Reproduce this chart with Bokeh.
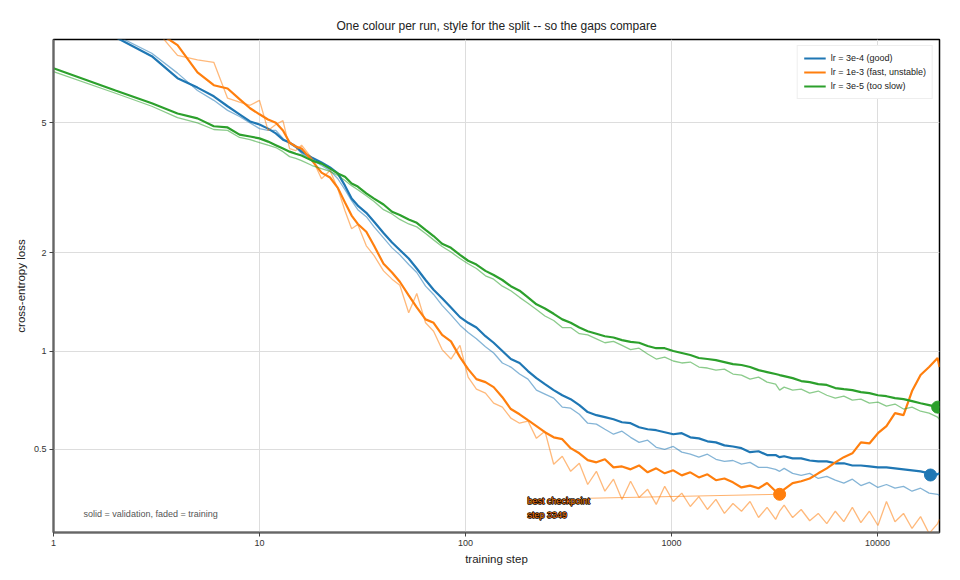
from bokeh.plotting import figure
from bokeh.models import FixedTicker, Legend, LegendItem
from bokeh.core.properties import value
from bokeh.embed import file_html
from bokeh.resources import INLINE

# training steps shared by all runs (log spaced)
steps = [1, 2, 3, 4, 5, 6, 7, 8, 9, 10, 11, 12, 13, 14, 15, 16, 18, 20, 22, 24,
         26, 28, 30, 33, 36, 40, 44, 48, 53, 58, 64, 70, 77, 85, 94, 103, 113, 125,
         137, 151, 166, 183, 201, 221, 243, 268, 295, 324, 357, 392, 432, 475, 523,
         575, 633, 696, 766, 843, 927, 1020, 1122, 1234, 1358, 1494, 1643, 1807,
         1988, 2187, 2406, 2646, 2911, 3202, 3349, 3522, 3874, 4262, 4688, 5157,
         5673, 6240, 6864, 7550, 8305, 9136, 10050, 11055, 12160, 13376, 14714,
         16185, 17804, 19584, 20000]

# lr = 3e-4
good_val = [12.3, 9.15, 8.0, 6.85, 6.41, 6.03, 5.62, 5.31, 5.05, 4.94, 4.80, 4.64, 4.44,
            4.35, 4.23, 4.08, 3.91, 3.78, 3.65, 3.50, 3.21, 2.93, 2.79, 2.65, 2.49, 2.30,
            2.15, 2.04, 1.92, 1.79, 1.65, 1.54, 1.45, 1.36, 1.27, 1.22, 1.18, 1.11, 1.06,
            1.00, 0.945, 0.919, 0.868, 0.826, 0.792, 0.759, 0.732, 0.712, 0.683, 0.650,
            0.636, 0.627, 0.618, 0.605, 0.601, 0.584, 0.576, 0.572, 0.564, 0.556, 0.560,
            0.544, 0.540, 0.529, 0.525, 0.514, 0.510, 0.504, 0.490, 0.493, 0.480, 0.480,
            0.473, 0.476, 0.469, 0.469, 0.462, 0.459, 0.459, 0.453, 0.453, 0.446, 0.446,
            0.443, 0.440, 0.440, 0.437, 0.434, 0.431, 0.428, 0.422, 0.419, 0.422]
good_train = [12.6, 9.28, 8.17, 7.1, 6.28, 5.86, 5.46, 5.23, 5.0, 4.80, 4.74, 4.74, 4.48,
              4.32, 4.20, 4.03, 3.86, 3.70, 3.57, 3.37, 3.12, 2.89, 2.71, 2.58, 2.40, 2.22,
              2.07, 1.97, 1.84, 1.74, 1.58, 1.49, 1.38, 1.29, 1.20, 1.14, 1.09, 1.03, 0.986,
              0.919, 0.893, 0.850, 0.820, 0.759, 0.738, 0.717, 0.673, 0.668, 0.640, 0.601,
              0.597, 0.576, 0.556, 0.568, 0.544, 0.525, 0.533, 0.507, 0.500, 0.510, 0.490,
              0.483, 0.473, 0.483, 0.466, 0.459, 0.462, 0.450, 0.456, 0.440, 0.440, 0.434,
              0.428, 0.437, 0.422, 0.416, 0.422, 0.407, 0.413, 0.402, 0.394, 0.405, 0.387,
              0.396, 0.382, 0.390, 0.380, 0.385, 0.372, 0.380, 0.367, 0.364, 0.361]

# lr = 1e-3
fast_val = [19.5, 12.8, 9.75, 8.65, 7.14, 6.52, 6.37, 5.91, 5.54, 5.31, 5.12, 5.00, 4.74,
            4.35, 4.23, 4.17, 3.83, 3.52, 3.40, 3.16, 2.85, 2.60, 2.45, 2.32, 2.10, 1.85,
            1.74, 1.63, 1.48, 1.36, 1.25, 1.22, 1.12, 1.07, 0.958, 0.880, 0.820, 0.803,
            0.775, 0.722, 0.664, 0.640, 0.614, 0.589, 0.564, 0.544, 0.537, 0.504, 0.486,
            0.463, 0.456, 0.466, 0.440, 0.443, 0.434, 0.446, 0.425, 0.437, 0.422, 0.431,
            0.416, 0.425, 0.410, 0.419, 0.402, 0.407, 0.396, 0.382, 0.387, 0.380, 0.394,
            0.372, 0.364, 0.377, 0.394, 0.399, 0.407, 0.422, 0.437, 0.456, 0.473, 0.486,
            0.525, 0.521, 0.560, 0.589, 0.645, 0.636, 0.754, 0.844, 0.893, 0.952, 0.893]
fast_train = [18.2, 12.3, 9.96, 8.05, 7.79, 7.66, 5.95, 5.79, 5.66, 5.86, 4.74, 4.94, 5.08,
              4.17, 4.11, 4.27, 3.89, 3.37, 3.57, 3.14, 2.69, 2.37, 2.44, 2.10, 1.96, 1.76,
              1.66, 1.59, 1.31, 1.50, 1.22, 1.15, 1.01, 0.945, 1.04, 0.832, 0.764, 0.743,
              0.692, 0.673, 0.623, 0.601, 0.610, 0.540, 0.568, 0.450, 0.476, 0.428, 0.453,
              0.390, 0.428, 0.372, 0.405, 0.351, 0.399, 0.356, 0.377, 0.339, 0.385, 0.346,
              0.367, 0.334, 0.358, 0.327, 0.351, 0.318, 0.341, 0.323, 0.346, 0.309, 0.332,
              0.305, 0.323, 0.337, 0.309, 0.327, 0.302, 0.318, 0.296, 0.323, 0.300, 0.332,
              0.298, 0.323, 0.292, 0.346, 0.300, 0.318, 0.286, 0.311, 0.276, 0.296, 0.305]

# lr = 3e-5
slow_val = [7.35, 6.28, 5.74, 5.34, 5.16, 4.88, 4.84, 4.60, 4.54, 4.48, 4.38, 4.27, 4.17,
            4.08, 4.02, 3.97, 3.83, 3.75, 3.62, 3.50, 3.42, 3.26, 3.19, 3.04, 2.93, 2.81,
            2.67, 2.61, 2.53, 2.47, 2.35, 2.25, 2.13, 2.07, 1.97, 1.89, 1.84, 1.76, 1.71,
            1.65, 1.58, 1.53, 1.46, 1.39, 1.35, 1.30, 1.25, 1.22, 1.18, 1.15, 1.13, 1.11,
            1.10, 1.08, 1.066, 1.06, 1.036, 1.02, 1.02, 1.00, 0.986, 0.972, 0.952, 0.945,
            0.938, 0.925, 0.912, 0.906, 0.893, 0.874, 0.862, 0.850, 0.844, 0.838, 0.826,
            0.809, 0.803, 0.792, 0.787, 0.770, 0.764, 0.759, 0.748, 0.743, 0.732, 0.727,
            0.717, 0.712, 0.702, 0.692, 0.683, 0.673, 0.673]
slow_train = [7.18, 6.16, 5.62, 5.19, 5.00, 4.77, 4.74, 4.51, 4.44, 4.35, 4.27, 4.20, 4.08,
              3.94, 3.89, 3.83, 3.70, 3.62, 3.55, 3.45, 3.33, 3.21, 3.12, 2.99, 2.87, 2.71,
              2.63, 2.53, 2.45, 2.40, 2.29, 2.19, 2.09, 2.01, 1.92, 1.85, 1.79, 1.70, 1.66,
              1.58, 1.53, 1.46, 1.40, 1.34, 1.28, 1.24, 1.18, 1.18, 1.13, 1.12, 1.09, 1.06,
              1.07, 1.04, 1.01, 1.02, 0.979, 0.945, 0.958, 0.932, 0.919, 0.925, 0.893, 0.887,
              0.874, 0.880, 0.850, 0.844, 0.820, 0.832, 0.803, 0.792, 0.759, 0.775, 0.759,
              0.764, 0.743, 0.754, 0.732, 0.717, 0.727, 0.707, 0.712, 0.692, 0.697, 0.678,
              0.688, 0.664, 0.673, 0.654, 0.645, 0.627, 0.618]

run_names = ["lr = 3e-4 (good)", "lr = 1e-3 (fast, unstable)", "lr = 3e-5 (too slow)"]
run_colors = ["#1f77b4", "#ff7f0e", "#2ca02c"]
val_runs = [good_val, fast_val, slow_val]
train_runs = [good_train, fast_train, slow_train]

# best checkpoint per run (min validation loss)
best_steps = [18080, 3349, 19584]
best_losses = [0.417, 0.364, 0.673]

FONT = "Liberation Sans"

p = figure(width=952, height=567, x_axis_type="log", y_axis_type="log",
           x_range=(1, 20000), y_range=(0.278, 9.0),
           title="One colour per run, style for the split -- so the gaps compare",
           x_axis_label="training step", y_axis_label="cross-entropy loss",
           output_backend="svg", toolbar_location=None,
           min_border_left=53, min_border_right=13, min_border_top=39, min_border_bottom=30)

p.title.align = "center"
p.title.text_font = FONT
p.title.text_font_size = "12px"
p.title.text_font_style = "normal"
p.title.text_color = "#222222"
p.title.standoff = 14

p.xaxis.ticker = FixedTicker(ticks=[1, 10, 100, 1000, 10000], minor_ticks=[])
p.yaxis.ticker = FixedTicker(ticks=[0.5, 1, 2, 5], minor_ticks=[])
p.xaxis.major_label_overrides = {1: "1", 10: "10", 100: "100", 1000: "1000", 10000: "10000"}
p.yaxis.major_label_overrides = {0.5: "0.5", 1: "1", 2: "2", 5: "5"}
for ax in [p.xaxis, p.yaxis]:
    ax.axis_line_color = "#666666"
    ax.axis_line_width = 2
    ax.major_tick_line_color = "#444444"
    ax.major_tick_out = 4
    ax.major_tick_in = 0
    ax.major_label_standoff = 3
    ax.major_label_text_font = FONT
    ax.major_label_text_font_size = "9px"
    ax.major_label_text_color = "#333333"
    ax.axis_label_text_font = FONT
    ax.axis_label_text_font_size = "11.5px"
    ax.axis_label_text_font_style = "normal"
    ax.axis_label_text_color = "#222222"
    ax.axis_label_standoff = 4
p.grid.grid_line_color = "#dddddd"
p.outline_line_color = "black"
p.outline_line_width = 1.5

items = []
for name, color, tr, va in zip(run_names, run_colors, train_runs, val_runs):
    p.line(steps, tr, color=color, line_width=1.3, line_alpha=0.55)
    r = p.line(steps, va, color=color, line_width=2.2)
    items.append(LegendItem(label=name, renderers=[r]))

p.scatter(best_steps, best_losses, size=12, color=run_colors)

# best checkpoint callout
call_x = [400, best_steps[1]]
call_y = [0.354, best_losses[1]]
call_text = ["best checkpoint", "step %d" % best_steps[1]]
p.line(call_x, call_y, color=run_colors[1], line_width=1, line_alpha=0.6)
# dark halo underneath, orange text on top
p.text([200, 200], [0.346, 0.314], text=call_text,
       text_font=value(FONT), text_font_size="9px", text_color="black",
       text_baseline="middle", text_align="left", text_outline_color="black")
p.text([200, 200], [0.346, 0.314], text=call_text,
       text_font=value(FONT), text_font_size="9px", text_color=run_colors[1],
       text_baseline="middle", text_align="left")

p.text([1.4], [0.316], text=["solid = validation, faded = training"],
       text_font=value(FONT), text_font_size="9px", text_color="#555555",
       text_baseline="middle", text_align="left")

legend = Legend(items=items, location="top_right")
legend.label_text_font = FONT
legend.label_text_font_size = "9px"
legend.label_text_color = "#222222"
legend.glyph_width = 22
legend.glyph_height = 12
legend.label_height = 12
legend.label_standoff = 5
legend.spacing = 2
legend.padding = 6
legend.margin = 6
legend.border_line_color = "#dddddd"
legend.background_fill_alpha = 1.0
p.add_layout(legend)

open("out.html", "w").write(file_html(p, INLINE))
